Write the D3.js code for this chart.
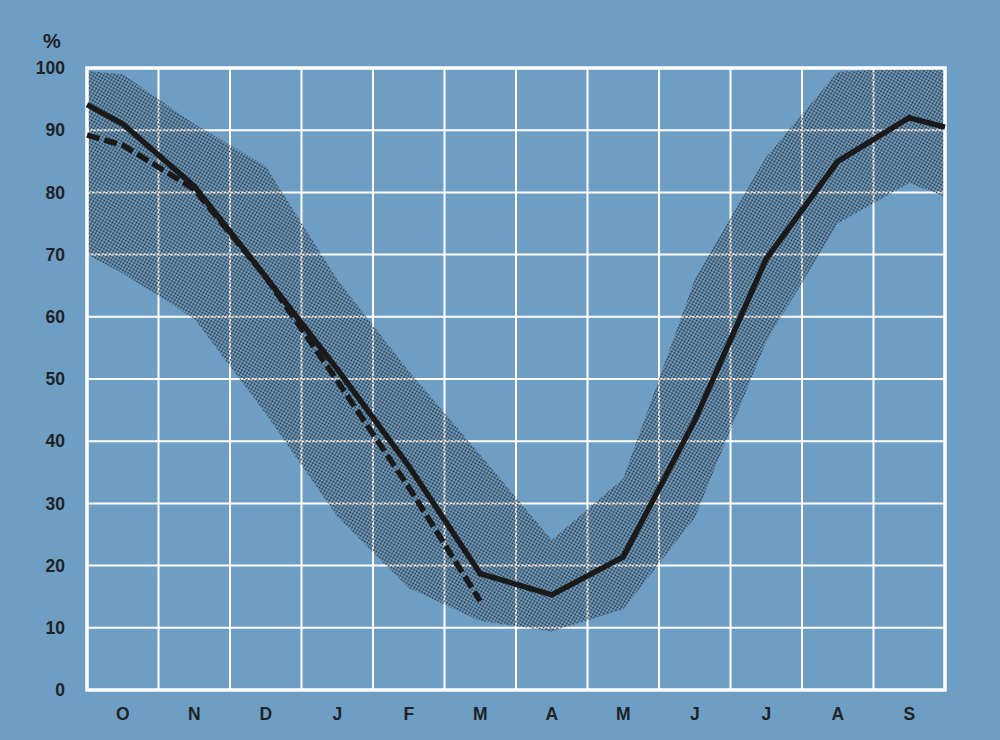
<!DOCTYPE html>
<html>
<head>
<meta charset="utf-8">
<script src="https://cdn.jsdelivr.net/npm/d3@7"></script>
<style>
  html, body { margin: 0; padding: 0; background: #6e9ec4; }
  svg { display: block; }
</style>
</head>
<body>
<svg id="chart" width="1000" height="740"></svg>
<script>
// ---- data ----
const months = ["O", "N", "D", "J", "F", "M", "A", "M", "J", "J", "A", "S"];
const yTicks = [0, 10, 20, 30, 40, 50, 60, 70, 80, 90, 100];
const yLabel = "%";
// positions in month units (0 = start of October, 12 = end of September)
const positions = [0, 0.5, 1.5, 2.5, 3.5, 4.5, 5.5, 6.5, 7.5, 8.5, 9.5, 10.5, 11.5, 12];
const solidValues = [94.1, 91, 81, 66.4, 51.6, 36, 18.7, 15.3, 21.4, 43.3, 69.3, 85, 92, 90.5];
const dashedPositions = [0, 0.5, 1.5, 2.5, 3.5, 4.5, 5.5];
const dashedValues = [89.2, 87.6, 80.5, 66.4, 49.7, 32.6, 14.3];
const bandUpper = [99.5, 99, 91, 84.2, 66, 51.3, 37.8, 24.1, 34, 66, 85.7, 99.4, 100, 100];
const bandLower = [70, 67, 59.7, 44.4, 27.9, 16.4, 11.1, 9.4, 13, 27.7, 56, 75, 81.5, 79.3];

// ---- layout ----
const M = { left: 87, right: 945, top: 68, bottom: 690 };
const svg = d3.select("#chart");
const x = d3.scaleLinear().domain([0, 12]).range([M.left, M.right]);
const y = d3.scaleLinear().domain([0, 100]).range([M.bottom, M.top]);

svg.append("rect").attr("width", 1000).attr("height", 740).attr("fill", "#6e9ec4");

const defs = svg.append("defs");
const pat = defs.append("pattern")
  .attr("id", "dots").attr("patternUnits", "userSpaceOnUse")
  .attr("width", 3).attr("height", 3)
  .attr("patternTransform", "rotate(30)");
pat.append("circle").attr("cx", 1.5).attr("cy", 1.5).attr("r", 0.95).attr("fill", "#22262a");

// grid
const gridColor = "#ffffff";
svg.append("g").selectAll("line").data(yTicks).join("line")
  .attr("x1", M.left).attr("x2", M.right)
  .attr("y1", d => y(d)).attr("y2", d => y(d))
  .attr("stroke", gridColor).attr("stroke-width", 2);
svg.append("g").selectAll("line").data(d3.range(months.length + 1)).join("line")
  .attr("y1", M.top).attr("y2", M.bottom)
  .attr("x1", d => x(d)).attr("x2", d => x(d))
  .attr("stroke", gridColor).attr("stroke-width", 2);

// band
const bandData = positions.map((p, i) => ({ p, lo: bandLower[i], hi: bandUpper[i] }));
const area = d3.area().x(d => x(d.p)).y0(d => y(d.lo)).y1(d => y(d.hi));
svg.append("path").datum(bandData).attr("d", area).attr("fill", "url(#dots)");

// frame
svg.append("rect").attr("x", M.left).attr("y", M.top)
  .attr("width", M.right - M.left).attr("height", M.bottom - M.top)
  .attr("fill", "none").attr("stroke", "#ffffff").attr("stroke-width", 3.5);

// lines
const line = d3.line().x(d => x(d[0])).y(d => y(d[1]));
svg.append("path")
  .datum(dashedPositions.map((p, i) => [p, dashedValues[i]]))
  .attr("d", line).attr("fill", "none").attr("stroke", "#1a1a1a")
  .attr("stroke-width", 5.5).attr("stroke-dasharray", "13,5");
svg.append("path")
  .datum(positions.map((p, i) => [p, solidValues[i]]))
  .attr("d", line).attr("fill", "none").attr("stroke", "#1a1a1a")
  .attr("stroke-width", 5.5).attr("stroke-linejoin", "miter");

// axis labels
const font = "'Liberation Sans', Arial, Helvetica, sans-serif";
const yAxis = d3.axisLeft(y).tickValues(yTicks).tickSize(0).tickPadding(0);
const gy = svg.append("g").attr("transform", `translate(${M.left - 22},0)`).call(yAxis);
gy.select(".domain").remove();
gy.selectAll("text").attr("font-family", font).attr("font-weight", "bold")
  .attr("font-size", 17.5).attr("fill", "#1f2326");

const xBand = d3.scaleBand().domain(d3.range(months.length)).range([M.left, M.right]);
const xAxis = d3.axisBottom(xBand).tickFormat(i => months[i]).tickSize(0).tickPadding(0);
const gx = svg.append("g").attr("transform", `translate(0,${M.bottom + 18})`).call(xAxis);
gx.select(".domain").remove();
gx.selectAll("text").attr("font-family", font).attr("font-weight", "bold")
  .attr("font-size", 17.5).attr("fill", "#1f2326");

svg.append("text").attr("x", 52).attr("y", 48).attr("text-anchor", "middle")
  .attr("font-family", font).attr("font-weight", "bold").attr("font-size", 20)
  .attr("fill", "#1f2326").text(yLabel);
</script>
</body>
</html>
